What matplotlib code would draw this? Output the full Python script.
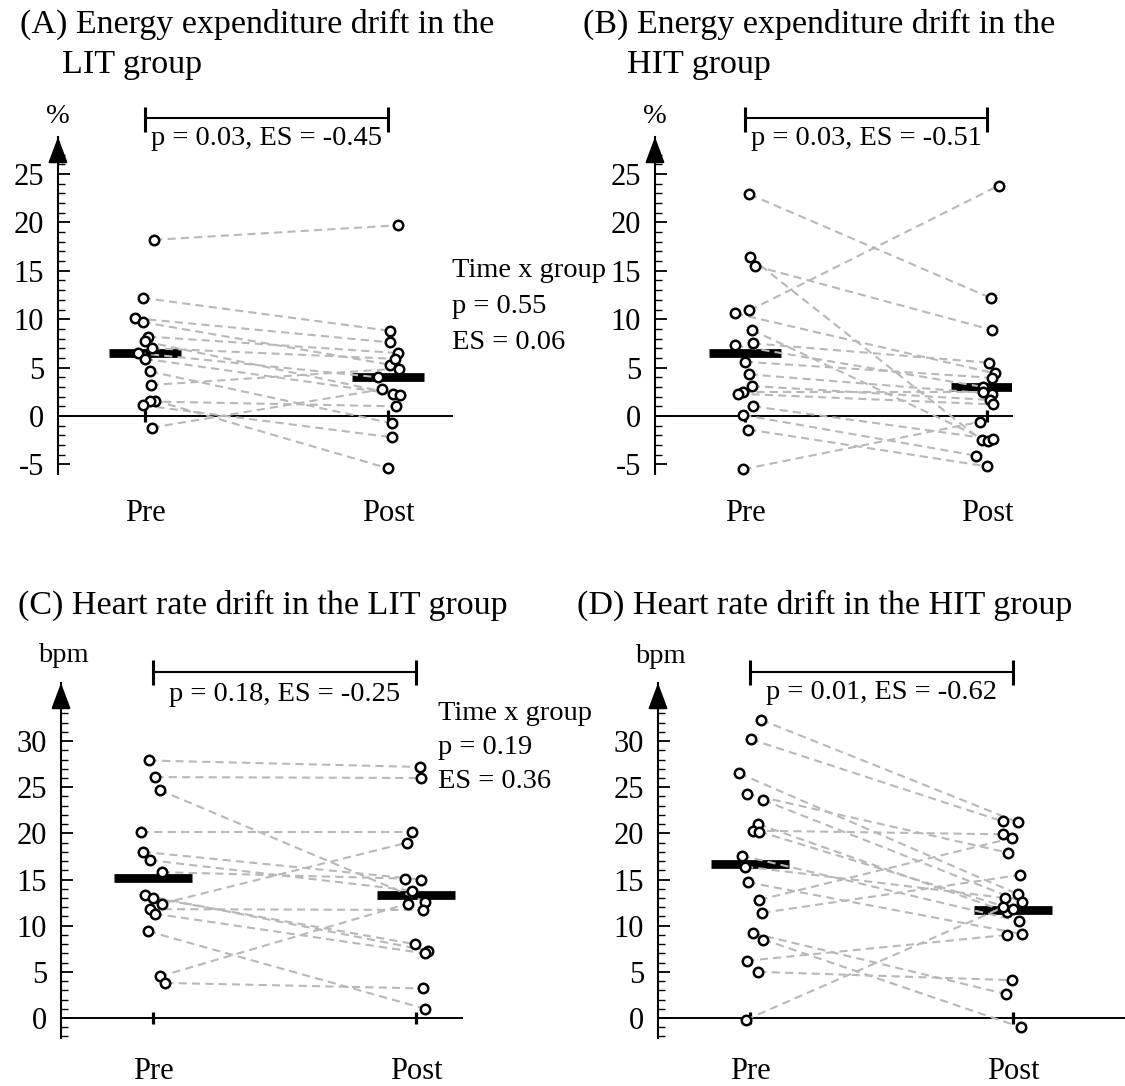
import matplotlib
matplotlib.use("Agg")
import matplotlib.pyplot as plt
from matplotlib.transforms import blended_transform_factory
from matplotlib.ticker import FixedLocator

plt.rcParams['font.family'] = ['Liberation Serif', 'DejaVu Serif']
plt.rcParams['axes.unicode_minus'] = False

W, H = 1125, 1086

# ---------------- data ----------------
conditions = ["Pre", "Post"]

titles = [
    ["(A) Energy expenditure drift in the", "LIT group"],
    ["(B) Energy expenditure drift in the", "HIT group"],
    ["(C) Heart rate drift in the LIT group"],
    ["(D) Heart rate drift in the HIT group"],
]
units = ["%", "%", "bpm", "bpm"]
stats_text = ["p = 0.03, ES = -0.45", "p = 0.03, ES = -0.51",
              "p = 0.18, ES = -0.25", "p = 0.01, ES = -0.62"]
interaction_top = ["Time x group", "p = 0.55", "ES = 0.06"]
interaction_bottom = ["Time x group", "p = 0.19", "ES = 0.36"]

ee_lit_pre = [18.2, 12.2, 10.1, 9.7, 8.2, 7.7, 7.0, 6.5, 5.9, 4.6, 3.2, 1.6, 1.5, 1.1, -1.2]
ee_lit_post = [19.7, 8.8, 7.6, 5.3, 6.5, 2.3, 5.9, 4.0, 2.2, -0.75, 4.9, -5.4, 1.0, -2.2, 2.75]
ee_lit_pre_jit = [0.038, -0.01, -0.041, -0.01, 0.014, 0.0, 0.027, -0.03, 0.0, 0.02, 0.023, 0.041, 0.02, -0.007, 0.027]
ee_lit_post_jit = [0.04, 0.008, 0.008, 0.008, 0.043, 0.022, 0.029, -0.04, 0.05, 0.015, 0.047, 0.0, 0.033, 0.015, -0.026]
ee_lit_means = [6.5, 4.0]

ee_hit_pre = [22.9, 16.4, 15.5, 10.9, 10.6, 8.9, 7.5, 7.3, 5.6, 4.3, 3.1, 2.5, 2.3, 1.0, 0.1, -1.4, -5.5]
ee_hit_post = [12.2, -2.5, 8.9, 23.8, 4.4, -2.6, 5.5, 3.0, 3.95, 2.3, 1.65, 2.5, 1.2, -2.4, -4.1, -5.2, -0.6]
ee_hit_pre_jit = [0.018, 0.021, 0.041, 0.018, -0.041, 0.028, 0.034, -0.041, 0.0, 0.018, 0.028, -0.007, -0.028, 0.034, -0.007, 0.014, -0.007]
ee_hit_post_jit = [0.015, -0.022, 0.019, 0.048, 0.033, 0.006, 0.01, -0.015, 0.019, 0.019, 0.012, -0.015, 0.026, 0.026, -0.045, 0.0, -0.029]
ee_hit_means = [6.5, 3.0]

hr_lit_pre = [27.9, 26.1, 24.7, 20.1, 18.0, 17.1, 15.8, 13.3, 13.0, 12.4, 11.8, 11.3, 9.4, 4.5, 3.8]
hr_lit_post = [27.2, 26.0, 12.6, 20.1, 15.0, 13.8, 15.1, 7.3, 8.0, 19.0, 11.7, 7.0, 1.0, 12.4, 3.2]
hr_lit_pre_jit = [-0.016, 0.009, 0.025, -0.044, -0.038, -0.013, 0.034, -0.032, 0.0, 0.034, -0.01, 0.006, -0.019, 0.025, 0.047]
hr_lit_post_jit = [0.015, 0.018, 0.034, -0.014, 0.018, -0.016, -0.042, 0.044, -0.004, -0.033, 0.028, 0.034, 0.035, -0.029, 0.028]
hr_lit_means = [15.2, 13.3]

hr_hit_pre = [32.3, 30.2, 26.5, 24.3, 23.6, 21.0, 20.3, 20.2, 17.6, 16.4, 14.7, 12.8, 11.4, 9.2, 8.5, 6.2, 5.0, -0.2]
hr_hit_post = [21.2, 21.3, 13.4, 17.9, 12.6, 11.5, 19.9, 11.8, 10.5, 13.0, 9.1, 19.5, 15.5, 2.6, -1.0, 9.0, 4.1, 12.0]
hr_hit_pre_jit = [0.042, 0.003, -0.041, -0.013, 0.051, 0.032, 0.013, 0.035, -0.032, -0.019, -0.009, 0.035, 0.047, 0.01, 0.051, -0.013, 0.032, -0.016]
hr_hit_post_jit = [0.02, -0.039, 0.02, -0.018, 0.033, -0.024, -0.039, 0.0, 0.024, -0.03, 0.033, -0.003, 0.027, -0.028, 0.03, -0.022, -0.005, -0.037]
hr_hit_means = [16.7, 11.7]

ee_major = [-5, 0, 5, 10, 15, 20, 25]
ee_minor = [v for v in range(-6, 28) if v % 5 != 0]
hr_major = [0, 5, 10, 15, 20, 25, 30]
hr_minor = [v for v in range(-2, 34) if v % 5 != 0]

# ---------------- layout (pixel geometry) ----------------
panels = [
    dict(spine=58, pre=145, post=388, right=452, zero=416, ppy=9.68, bottom=474, top=137,
         bracket=118, cap=(107, 132), stat_base=145, unit_xy=(58, 123), label_base=521,
         title_xy=[(20, 33), (62, 73)]),
    dict(spine=655, pre=745, post=987, right=1012, zero=416, ppy=9.68, bottom=474, top=137,
         bracket=118, cap=(107, 132), stat_base=145, unit_xy=(655, 123), label_base=521,
         title_xy=[(583, 33), (627, 73)]),
    dict(spine=61, pre=153, post=416, right=462, zero=1018, ppy=9.23, bottom=1038, top=683,
         bracket=672, cap=(660, 685), stat_base=701, unit_xy=(63, 662), label_base=1079,
         title_xy=[(18, 614)]),
    dict(spine=658, pre=750, post=1013, right=1125, zero=1018, ppy=9.23, bottom=1038, top=683,
         bracket=672, cap=(660, 685), stat_base=699, unit_xy=(660, 663), label_base=1079,
         title_xy=[(577, 614)]),
]

series = [
    (ee_lit_pre, ee_lit_post, ee_lit_pre_jit, ee_lit_post_jit, ee_lit_means, ee_major, ee_minor),
    (ee_hit_pre, ee_hit_post, ee_hit_pre_jit, ee_hit_post_jit, ee_hit_means, ee_major, ee_minor),
    (hr_lit_pre, hr_lit_post, hr_lit_pre_jit, hr_lit_post_jit, hr_lit_means, hr_major, hr_minor),
    (hr_hit_pre, hr_hit_post, hr_hit_pre_jit, hr_hit_post_jit, hr_hit_means, hr_major, hr_minor),
]

fig = plt.figure(figsize=(W / 100, H / 100), dpi=100)
fig.patch.set_facecolor("white")


def fy(y):
    return 1 - y / H


def fx(x):
    return x / W


for i, (spec, data) in enumerate(zip(panels, series)):
    pre, post, pj, qj, means, major, minor = data
    ppx = spec['post'] - spec['pre']
    ppy = spec['ppy']
    x0 = (spec['spine'] - spec['pre']) / ppx
    x1 = (spec['right'] - spec['pre']) / ppx
    y0 = (spec['zero'] - spec['bottom']) / ppy
    y1 = (spec['zero'] - spec['top']) / ppy
    ax = fig.add_axes([fx(spec['spine']), fy(spec['bottom']),
                       (spec['right'] - spec['spine']) / W,
                       (spec['bottom'] - spec['top']) / H])
    ax.set_xlim(x0, x1)
    ax.set_ylim(y0, y1)
    ax.patch.set_alpha(0)
    for s in ['top', 'right']:
        ax.spines[s].set_visible(False)
    ax.spines['bottom'].set_position(('data', 0))
    ax.spines['bottom'].set_linewidth(1.4)
    ax.spines['left'].set_linewidth(1.5)

    ax.yaxis.set_major_locator(FixedLocator(major))
    ax.yaxis.set_minor_locator(FixedLocator(minor))
    ax.tick_params(axis='y', which='major', direction='in', length=8.5, width=1.3,
                   labelsize=22, pad=10)
    ax.tick_params(axis='y', which='minor', direction='in', length=4.8, width=1.0)
    ax.set_xticks([0, 1])
    ax.tick_params(axis='x', direction='inout', length=9, width=2.3, labelbottom=False)

    # arrow head on the y axis
    ax.annotate('', xy=(x0, y1), xytext=(x0, y1 - 2.5), xycoords='data',
                arrowprops=dict(arrowstyle='-|>,head_length=0.8,head_width=0.3',
                                color='k', lw=1.5, mutation_scale=20,
                                shrinkA=0, shrinkB=0),
                annotation_clip=False)

    # mean bars
    ax.hlines(means, [k - 0.15 for k in range(2)], [k + 0.15 for k in range(2)],
              colors='black', linewidth=6.3, zorder=2)

    # paired dashed lines
    for a, b, ja, jb in zip(pre, post, pj, qj):
        ax.plot([0 + ja, 1 + jb], [a, b], color='#b8b8b8', lw=1.5,
                dashes=(3.9, 2.5), zorder=3)
    ax.plot([0 + j for j in pj], pre, 'o', ms=6.8, mfc='white', mec='black',
            mew=1.8, zorder=4, clip_on=False)
    ax.plot([1 + j for j in qj], post, 'o', ms=6.8, mfc='white', mec='black',
            mew=1.8, zorder=4, clip_on=False)

    trans = blended_transform_factory(ax.transData, fig.transFigure)
    # bracket
    ax.plot([0, 1], [fy(spec['bracket'])] * 2, transform=trans, color='k', lw=1.5,
            clip_on=False)
    for xc in (0, 1):
        ax.plot([xc, xc], [fy(spec['cap'][0]), fy(spec['cap'][1])], transform=trans,
                color='k', lw=2.2, clip_on=False, solid_capstyle='butt')
    ax.text(0.5, fy(spec['stat_base']), stats_text[i], transform=trans, ha='center',
            va='baseline', fontsize=20.5)

    # condition labels
    for k, name in enumerate(conditions):
        ax.text(k, fy(spec['label_base']), name, transform=trans, ha='center',
                va='baseline', fontsize=22)

    # unit label
    fig.text(fx(spec['unit_xy'][0]), fy(spec['unit_xy'][1]), units[i], ha='center',
             va='baseline', fontsize=20.5)

    # title
    for line, (tx, ty) in zip(titles[i], spec['title_xy']):
        fig.text(fx(tx), fy(ty), line, ha='left', va='baseline', fontsize=24.5)

# interaction annotations
for k, line in enumerate(interaction_top):
    fig.text(fx(452), fy(277 + 36 * k), line, ha='left', va='baseline', fontsize=20.5)
for k, line in enumerate(interaction_bottom):
    fig.text(fx(438), fy(720 + 34 * k), line, ha='left', va='baseline', fontsize=20.5)

fig.savefig("out.png", dpi=100, facecolor="white")
